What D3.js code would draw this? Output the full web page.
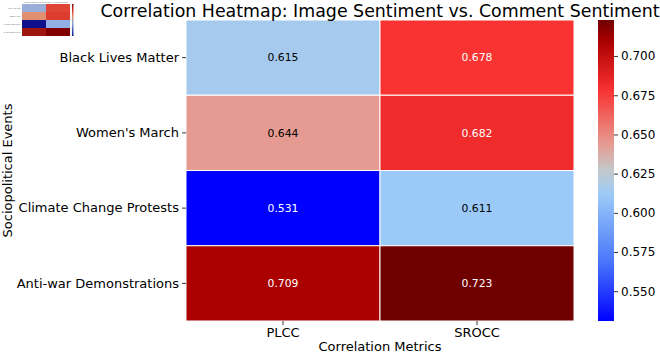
<!DOCTYPE html>
<html>
<head>
<meta charset="utf-8">
<script src="https://cdn.jsdelivr.net/npm/d3@7"></script>
<style>
  html, body { margin: 0; padding: 0; background: #fff; }
  svg { display: block; font-family: "DejaVu Sans", sans-serif; }
</style>
</head>
<body>
<svg id="chart" width="660" height="353"></svg>
<script>
/* Correlation heatmap: image sentiment vs comment sentiment. */

const events = ["Black Lives Matter", "Women's March", "Climate Change Protests", "Anti-war Demonstrations"];
const metrics = ["PLCC", "SROCC"];
const plcc = [0.615, 0.644, 0.531, 0.709];
const srocc = [0.678, 0.682, 0.611, 0.723];
const colorbarTicks = [0.550, 0.575, 0.600, 0.625, 0.650, 0.675, 0.700];

const cells = [];
events.forEach(function (ev, i) {
  cells.push({ event: ev, metric: "PLCC", value: plcc[i] });
  cells.push({ event: ev, metric: "SROCC", value: srocc[i] });
});

const vmin = d3.min(cells, function (d) { return d.value; });
const vmax = d3.max(cells, function (d) { return d.value; });

/* custom blue -> light blue -> grey -> salmon -> red -> dark red map */
const tStops = [0, 0.2, 0.42, 0.5, 0.59, 0.77, 0.93, 1];
const cStops = ["#0000ff", "#4a78fa", "#9ccaf8", "#c3c9cc", "#e69a90", "#f83030", "#aa0000", "#700000"];
const tScale = d3.scaleLinear().domain([vmin, vmax]).range([0, 1]);
const cmap = d3.scaleLinear().domain(tStops).range(cStops).interpolate(d3.interpolateRgb).clamp(true);
function color(v) { return cmap(tScale(v)); }

const svg = d3.select("#chart");

const plotL = 186, plotR = 574, plotT = 20, plotB = 321;

const x = d3.scaleBand().domain(metrics).range([plotL, plotR]);
const y = d3.scaleBand().domain(events).range([plotT, plotB]);

/* ---------- CELLS ---------- */

svg.append("g").selectAll("rect")
  .data(cells)
  .enter()
  .append("rect")
  .attr("x", function (d) { return x(d.metric); })
  .attr("y", function (d) { return y(d.event); })
  .attr("width", x.bandwidth())
  .attr("height", y.bandwidth())
  .attr("fill", function (d) { return color(d.value); })
  .attr("stroke", "#fff")
  .attr("stroke-width", 1);

svg.append("g").selectAll("text")
  .data(cells)
  .enter()
  .append("text")
  .attr("x", function (d) { return x(d.metric) + x.bandwidth() / 2; })
  .attr("y", function (d) { return y(d.event) + y.bandwidth() / 2; })
  .attr("dy", "0.35em")
  .attr("text-anchor", "middle")
  .attr("font-size", 10.8)
  .attr("fill", function (d) {
    const c = d3.rgb(color(d.value));
    const lum = (0.2126 * c.r + 0.7152 * c.g + 0.0722 * c.b) / 255;
    return lum > 0.45 ? "#000" : "#fff";
  })
  .text(function (d) { return d3.format(".3f")(d.value); });

/* ---------- AXES ---------- */

const xAxis = svg.append("g")
  .attr("transform", "translate(0," + plotB + ")")
  .call(d3.axisBottom(x).tickSize(4).tickPadding(3));
const yAxis = svg.append("g")
  .attr("transform", "translate(" + plotL + ",0)")
  .call(d3.axisLeft(y).tickSize(4).tickPadding(3));

[xAxis, yAxis].forEach(function (g) {
  g.select(".domain").remove();
  g.selectAll(".tick line").attr("stroke", "#000").attr("stroke-width", 0.8);
  g.selectAll(".tick text").attr("font-family", "DejaVu Sans").attr("font-size", 13).attr("fill", "#000");
});

svg.append("text")
  .attr("x", (plotL + plotR) / 2)
  .attr("y", 351)
  .attr("text-anchor", "middle")
  .attr("font-size", 13)
  .text("Correlation Metrics");

svg.append("text")
  .attr("transform", "translate(12," + ((plotT + plotB) / 2) + ") rotate(-90)")
  .attr("text-anchor", "middle")
  .attr("font-size", 13)
  .text("Sociopolitical Events");

svg.append("text")
  .attr("x", (plotL + plotR) / 2)
  .attr("y", 17)
  .attr("text-anchor", "middle")
  .attr("font-size", 17.4)
  .text("Correlation Heatmap: Image Sentiment vs. Comment Sentiment");

/* ---------- COLORBAR ---------- */

const cbX = 598, cbW = 16;
const cbScale = d3.scaleLinear().domain([vmin, vmax]).range([plotB, plotT]);

const defs = svg.append("defs");
const grad = defs.append("linearGradient")
  .attr("id", "cbgrad")
  .attr("x1", 0).attr("y1", 1).attr("x2", 0).attr("y2", 0);
d3.range(0, 1.0001, 0.02).forEach(function (t) {
  grad.append("stop").attr("offset", t).attr("stop-color", cmap(t));
});

svg.append("rect")
  .attr("x", cbX)
  .attr("y", plotT)
  .attr("width", cbW)
  .attr("height", plotB - plotT)
  .attr("fill", "url(#cbgrad)");

const cbAxis = svg.append("g")
  .attr("transform", "translate(" + (cbX + cbW) + ",0)")
  .call(d3.axisRight(cbScale).tickValues(colorbarTicks).tickFormat(d3.format(".3f")).tickSize(4).tickPadding(3));
cbAxis.select(".domain").remove();
cbAxis.selectAll(".tick line").attr("stroke", "#000").attr("stroke-width", 0.8);
cbAxis.selectAll(".tick text").attr("font-family", "DejaVu Sans").attr("font-size", 12).attr("fill", "#000");

/* ---------- THUMBNAIL INSET (top-left) ---------- */

const thumb = svg.append("g");
const tx = d3.scaleBand().domain(metrics).range([22, 70]);
const ty = d3.scaleBand().domain(events).range([4, 36]);
const thumbMap = d3.scaleLinear()
  .domain([vmin, 0.611, 0.644, 0.68, vmax])
  .range(["#10108c", "#90b0e6", "#e09070", "#e04030", "#800000"]);

thumb.selectAll("rect")
  .data(cells)
  .enter()
  .append("rect")
  .attr("x", function (d) { return tx(d.metric); })
  .attr("y", function (d) { return ty(d.event); })
  .attr("width", tx.bandwidth())
  .attr("height", ty.bandwidth())
  .attr("fill", function (d) { return thumbMap(d.value); });

thumb.selectAll("text.lab")
  .data(events)
  .enter()
  .append("text")
  .attr("class", "lab")
  .attr("x", 21)
  .attr("y", function (d) { return ty(d) + ty.bandwidth() / 2 + 0.5; })
  .attr("text-anchor", "end")
  .attr("font-size", 1.4)
  .attr("fill", "#444")
  .text(function (d) { return d; });

thumb.append("text")
  .attr("x", 46).attr("y", 2.8)
  .attr("text-anchor", "middle")
  .attr("font-size", 1.4)
  .attr("fill", "#444")
  .text("Correlation Heatmap: Image Sentiment vs. Comment Sentiment");

const tgrad = defs.append("linearGradient")
  .attr("id", "tgrad")
  .attr("x1", 0).attr("y1", 1).attr("x2", 0).attr("y2", 0);
[0, 0.4, 0.6, 0.8, 1].forEach(function (t) {
  tgrad.append("stop").attr("offset", t).attr("stop-color", thumbMap(vmin + t * (vmax - vmin)));
});
thumb.append("rect")
  .attr("x", 72).attr("y", 4).attr("width", 1.5).attr("height", 32)
  .attr("fill", "url(#tgrad)");
</script>
</body>
</html>
